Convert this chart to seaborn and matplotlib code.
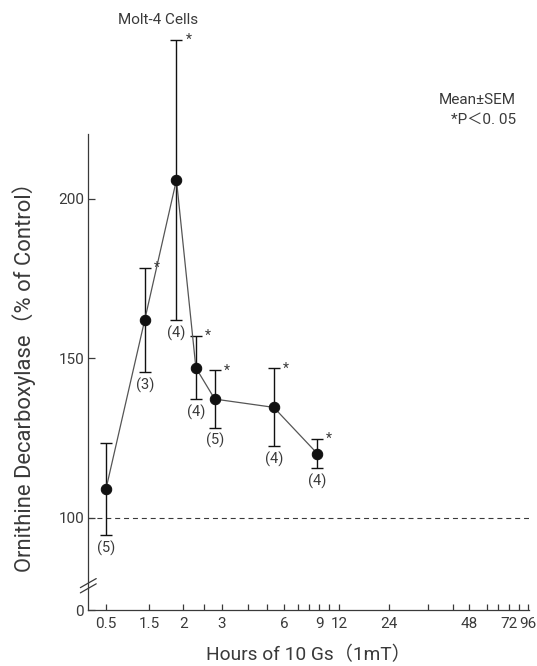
import numpy as np
import pandas as pd
import matplotlib
matplotlib.use("Agg")
import matplotlib.pyplot as plt
import seaborn as sns

# Ornithine decarboxylase activity in Molt-4 cells after 10 Gs exposure
hours = [0.5, 1.4, 1.9, 2.3, 2.8, 5.4, 8.8]
odc_mean = [109, 162, 206, 147, 137.2, 134.6, 120.1]
odc_sem = [14.5, 16.3, 44.0, 9.9, 9.0, 12.2, 4.5]
n_cells = [5, 3, 4, 4, 5, 4, 4]
significant = [False, True, True, True, True, True, True]

x_tick_hours = [0.5, 1.5, 2, 3, 6, 9, 12, 24, 48, 72, 96]
x_tick_labels = ["0.5", "1.5", "2", "3", "6", "9", "12", "24", "48", "72", "96"]
x_minor_hours = [2.5, 4, 5, 7, 8, 10.5, 36, 42, 60, 66, 84]
y_ticks = [100, 150, 200]
y_tick_labels = ["100", "150", "200"]
control_level = 100

df = pd.DataFrame({"hours": hours, "odc": odc_mean, "sem": odc_sem,
                   "n": n_cells, "sig": significant})

# Hand-ruled time axis: hours -> distance along the axis
scale_hours = [0, 0.5, 1.5, 2, 2.5, 3, 4, 5, 6, 7, 8, 9, 10.5, 12,
               24, 36, 42, 48, 60, 66, 72, 84, 96, 97]
scale_pos = [0, 17.7, 60.7, 95, 116, 133.4, 160, 178.4, 196, 210, 221, 231,
             241, 251, 301, 339.4, 364.4, 381, 398.4, 410, 420.7, 431, 439.4,
             440.7]


def fwd(v):
    return np.interp(v, scale_hours, scale_pos)


def inv(p):
    return np.interp(p, scale_pos, scale_hours)


sns.set_style("ticks")
ink = "#3a3a3a"
plt.rcParams["font.family"] = ["Roboto", "Noto Sans CJK JP", "DejaVu Sans"]
plt.rcParams["text.color"] = ink
plt.rcParams["axes.labelcolor"] = ink
plt.rcParams["xtick.color"] = ink
plt.rcParams["ytick.color"] = ink

fig = plt.figure(figsize=(5.37, 6.66), dpi=100)
ax = fig.add_axes([88.3 / 537, 56 / 666, 440.7 / 537, 476 / 666])
ax.set_xscale("function", functions=(fwd, inv))
ax.set_xlim(0, 97)
y_floor = 71.0
ax.set_ylim(y_floor, 220.4)

ax.axhline(control_level, color=ink, lw=0.8, ls=(0, (4.5, 3.5)), zorder=1)

eb = ax.errorbar(df["hours"], df["odc"], yerr=df["sem"], fmt="none",
                 ecolor="#111111", elinewidth=1.0, capsize=4.2, capthick=1.0,
                 zorder=2)
for part in eb.lines:
    if part is None:
        continue
    for art in (part if isinstance(part, tuple) else (part,)):
        art.set_clip_on(False)

sns.lineplot(data=df, x="hours", y="odc", ax=ax, color="#555555", lw=0.9,
             marker="o", markersize=7.5, markerfacecolor="#111111",
             markeredgecolor="#111111", sort=False, zorder=3)

for _, r in df.iterrows():
    ax.annotate(f"({r['n']})", (r["hours"], r["odc"] - r["sem"]),
                xytext=(0, -13), textcoords="offset pixels",
                ha="center", va="center", fontsize=10.5)
    if r["sig"]:
        ax.annotate("*", (r["hours"], r["odc"] + r["sem"]),
                    xytext=(12, 0), textcoords="offset pixels",
                    ha="center", va="center", fontsize=10,
                    annotation_clip=False)

ax.set_xticks(x_tick_hours)
ax.set_xticklabels(x_tick_labels)
ax.set_xticks(x_minor_hours, minor=True)
ax.set_yticks([y_floor] + y_ticks)
ax.set_yticklabels(["0"] + y_tick_labels)
ax.tick_params(axis="both", which="both", direction="in", labelsize=11,
               width=0.9)
ax.tick_params(axis="x", which="both", length=4, pad=5)
ax.tick_params(axis="y", length=5, pad=3)
ax.tick_params(axis="y", which="minor", length=0)
for s in ("left", "bottom"):
    ax.spines[s].set_color(ink)
    ax.spines[s].set_linewidth(0.9)
sns.despine(ax=ax)

# Broken-axis marks between 0 and 100
for yc in (0.0455, 0.0565):
    ax.plot([-0.018, 0.018], [yc - 0.0095, yc + 0.0095], color=ink, lw=0.9,
            transform=ax.transAxes, clip_on=False)

ax.set_xlabel("Hours of 10 Gs（1mT）", fontsize=13.8, labelpad=11)
ax.set_ylabel("Ornithine Decarboxylase（% of Control）", fontsize=15.8,
              labelpad=16)

fig.text(158 / 537, 1 - 20 / 666, "Molt-4 Cells", ha="center", va="center",
         fontsize=11)
fig.text(516 / 537, 1 - 100 / 666, "Mean±SEM", ha="right", va="center",
         fontsize=11)
fig.text(516 / 537, 1 - 120 / 666, "*P＜0. 05", ha="right", va="center",
         fontsize=11)

fig.savefig("out.png", dpi=100)
